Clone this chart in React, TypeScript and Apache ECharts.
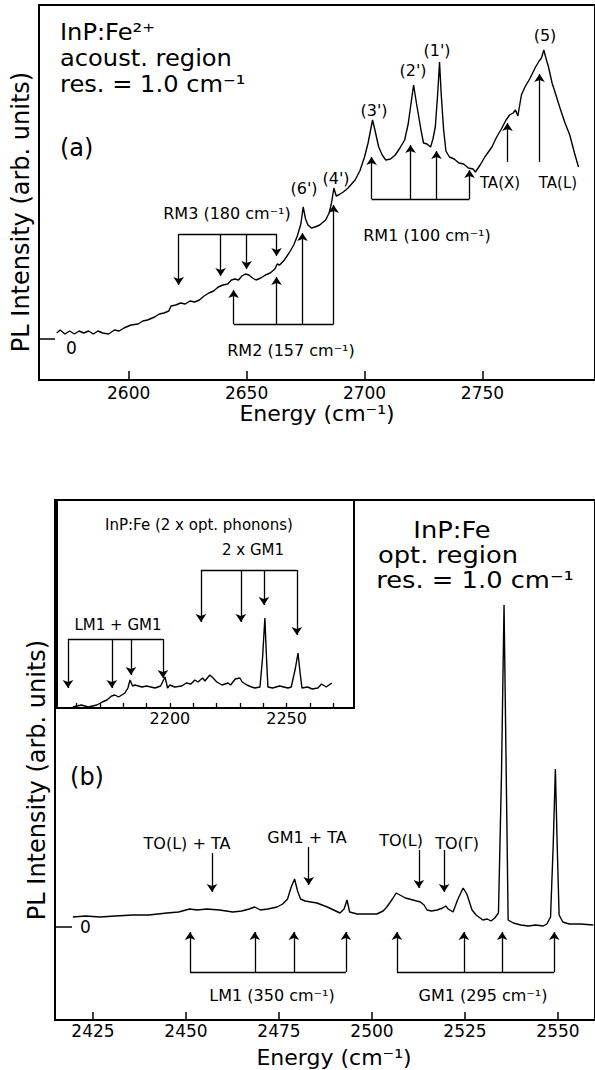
import React, { useEffect, useRef } from "react";
import * as echarts from "echarts";

const FONT = "DejaVu Sans";

// ---------- Panel (a): acoustic region ----------
const aTicks = [2600, 2650, 2700, 2750];
const aEnergy = [
  2569.5, 2571, 2573, 2575, 2577, 2579, 2581, 2583, 2585, 2587, 2589, 2591.5, 2594, 2596, 2598, 2601,
  2604, 2606, 2608, 2611, 2613, 2615, 2617, 2618, 2620, 2622, 2624, 2626, 2628, 2630, 2632, 2634,
  2636, 2638, 2640, 2642, 2643.6, 2645, 2646.6, 2648, 2649.5, 2651, 2652.5, 2654, 2656, 2658, 2660,
  2662, 2663, 2664, 2666, 2668, 2670, 2671.5, 2673, 2674, 2675, 2676, 2677.5, 2679, 2681, 2683.5,
  2685, 2686, 2687, 2688, 2689, 2691, 2693, 2696, 2698, 2700, 2701.5, 2703.4, 2704.5, 2706, 2707.5,
  2709, 2711, 2713, 2715, 2717, 2718.5, 2719.5, 2720.8, 2722, 2723, 2724, 2725, 2726.5, 2728, 2729,
  2730, 2731, 2731.8, 2732.5, 2733.5, 2734.5, 2736, 2738, 2740, 2742, 2744, 2746, 2747, 2749, 2751,
  2754, 2756, 2758, 2760, 2761.5, 2763, 2764, 2765, 2766.5, 2768, 2770, 2772.5, 2774, 2775, 2776,
  2777, 2778, 2779.5, 2781, 2783, 2785, 2787, 2789, 2790.7,
];
const aIntensity = [
  0.6, 0.9, 0.5, 0.8, 0.5, 0.8, 0.6, 0.8, 0.5, 0.8, 0.6, 0.5, 0.9, 0.8, 1.1, 1.4,
  1.5, 1.8, 1.9, 2.2, 2.5, 2.6, 2.8, 3.3, 3.4, 3.6, 3.5, 3.8, 3.7, 3.9, 4.3, 4.6,
  4.8, 5.2, 5.4, 5.5, 5.9, 6.0, 5.9, 6.3, 6.5, 6.4, 6.1, 5.9, 6.1, 6.4, 6.6,
  7.0, 7.5, 7.4, 7.9, 8.6, 9.4, 10.3, 11.5, 13.2, 12.0, 11.4, 11.1, 11.2, 11.4, 11.9,
  12.6, 13.6, 15.1, 14.3, 14.4, 14.7, 15.1, 15.9, 16.8, 18.2, 19.6, 21.9, 20.8, 19.2, 18.4,
  17.9, 18.0, 18.4, 19.1, 19.9, 21.5, 23.2, 25.4, 23.6, 22.2, 20.8, 19.6, 19.5, 19.2, 20.0,
  21.2, 24.5, 27.7, 24.5, 21.0, 18.8, 18.2, 18.0, 17.6, 17.5, 17.1, 17.0, 16.7, 17.4, 18.2,
  19.2, 20.2, 21.0, 21.9, 22.4, 22.6, 22.9, 22.3, 24.4, 25.2, 26.0, 27.2, 27.8, 28.1, 28.9,
  28.0, 27.2, 25.6, 24.5, 23.0, 21.6, 20.4, 18.6, 17.2,
];
const rm1Energy = [2703, 2719.5, 2730.5, 2744.5];
const rm1Tip = [18.2, 19.4, 18.8, 16.9];
const rm1Base = 14.0;
const rm2Energy = [2644.5, 2662.7, 2673.7, 2686.9];
const rm2Tip = [4.9, 6.2, 10.6, 13.4];
const rm2Base = 1.5;
const rm3Energy = [2621.2, 2639, 2650, 2662.7];
const rm3Tip = [5.4, 6.3, 7.0, 8.3];
const rm3Base = 10.5;
const taEnergy = [2760.6, 2774.2];
const taTip = [21.6, 26.5];
const taBase = 17.7;

// ---------- Panel (b): optical region ----------
const bTicks = [2425, 2450, 2475, 2500, 2525, 2550];
const bEnergy = [
  2419.6, 2423, 2426.9, 2431, 2435.8, 2440, 2444.9, 2448, 2451, 2453, 2455.6, 2459, 2462.6, 2465,
  2467, 2468.5, 2470, 2472, 2474.5, 2476, 2477.3, 2478.3, 2479.2, 2480, 2480.8, 2482, 2485.2, 2488,
  2491.4, 2492.5, 2493.3, 2494, 2496, 2501.3, 2503, 2504, 2505.5, 2506.5, 2507.5, 2509, 2511, 2513,
  2514, 2514.8, 2516, 2517.5, 2519, 2519.8, 2520.5, 2521.8, 2523, 2524.5, 2525.5, 2526.9, 2528,
  2529.8, 2531, 2532, 2533, 2534, 2534.8, 2535.5, 2536.1, 2536.6, 2538, 2540, 2542, 2544, 2546,
  2547, 2548, 2548.7, 2549.3, 2549.8, 2550.3, 2551.3, 2553, 2556, 2559.5,
];
const bIntensity = [
  1.0, 1.1, 1.0, 1.1, 1.2, 1.2, 1.4, 1.5, 1.8, 1.7, 1.8, 1.7, 1.5, 1.6,
  1.8, 2.0, 1.7, 1.8, 2.0, 2.3, 2.8, 4.0, 4.8, 3.6, 2.8, 2.6, 2.4, 2.0,
  1.4, 1.8, 2.7, 1.5, 1.3, 1.3, 1.6, 2.0, 2.8, 3.4, 3.2, 2.9, 2.7, 2.5,
  2.2, 1.7, 1.6, 1.7, 1.9, 2.1, 1.8, 1.5, 2.7, 3.9, 3.3, 1.7, 1.2,
  0.7, 0.8, 0.6, 0.9, 1.4, 15, 32.2, 15, 0.7, 0.4, 0.2, 0.1, 0.2, 0.1,
  0.3, 1.0, 8, 15.8, 8, 1.2, 0.5, 0.3, 0.3, 0.2,
];
const lm1Energy = [2451.1, 2468.5, 2479, 2493];
const gm1Energy = [2506.7, 2524.7, 2535, 2549];
const combBase = -4.5;
const combTip = -0.5;
const downEnergy = [2457, 2483, 2512.6, 2519.4];
const downStart = [7.4, 8.0, 7.7, 7.7];
const downTip = [3.5, 4.2, 3.9, 3.5];

// ---------- Inset: 2 x optical phonons ----------
const insetMinorTicks = [2160, 2170, 2180, 2190, 2200, 2210, 2220, 2230, 2240, 2250, 2260, 2270];
const insetMajorTicks = [2200, 2250];
const iEnergy = [
  2158.4, 2162, 2165, 2168.7, 2171, 2173, 2175, 2176.4, 2178, 2180.7, 2182, 2182.9, 2184, 2185,
  2188, 2190, 2193.6, 2196, 2197.9, 2199, 2200, 2202, 2205.1, 2207, 2209, 2210.7, 2212, 2214, 2215,
  2217.1, 2218.5, 2220.1, 2222.3, 2224.9, 2226, 2228, 2230, 2231, 2233, 2235, 2236.4, 2238.6,
  2239.7, 2240.7, 2241.4, 2242, 2244, 2247, 2250.6, 2252, 2253.8, 2254.9, 2255.8, 2256.6, 2259,
  2261, 2263.4, 2265, 2267, 2269.4,
];
const iIntensity = [
  0.1, 0.3, 0.1, 0.3, 0.6, 0.8, 1.2, 1.3, 1.1, 1.5, 2.0, 2.8, 2.2, 2.3,
  2.1, 2.2, 2.0, 2.2, 3.1, 2.0, 2.3, 2.1, 2.2, 2.5, 2.4, 2.8, 2.6, 3.0, 2.7,
  3.3, 3.0, 2.6, 2.3, 2.5, 2.3, 2.9, 3.0, 2.6, 2.3, 2.1, 2.0, 2.1,
  5, 9.0, 5, 2.1, 2.0, 2.2, 2.0, 2.1, 4, 5.5, 3.5, 2.0, 2.1,
  1.9, 2.0, 2.4, 2.1, 2.5,
];
const lmgmEnergy = [2156.3, 2175.1, 2183.3, 2197];
const lmgmTip = [2.0, 2.0, 3.3, 3.0];
const lmgmBase = 6.9;
const gm2Energy = [2213.3, 2230.4, 2240.3, 2254.4];
const gm2Tip = [8.6, 8.6, 10.3, 7.3];
const gm2Base = 13.8;

const pair = (xs: number[], ys: number[]) => xs.map((x, i) => [x, ys[i]]);
const arrows = (xs: number[], from: number | number[], to: number[]) =>
  xs.map((x, i) => ({ coords: [[x, Array.isArray(from) ? from[i] : from], [x, to[i]]] }));
const bracket = (xs: number[], y: number) => ({ coords: [[xs[0], y], [xs[xs.length - 1], y]] });

const txt = (
  text: string,
  x: number,
  y: number,
  size: number,
  align: string = "center",
  rotation = 0,
  scaleX = 1
) => ({
  type: "text",
  x,
  y,
  rotation,
  scaleX,
  silent: true,
  style: {
    text,
    x: 0,
    y: 0,
    fill: "#000",
    font: `${size}px "${FONT}"`,
    textAlign: align,
    align,
    textVerticalAlign: "middle",
    verticalAlign: "middle",
  },
});

function lineSeries(xi: number, data: number[][]) {
  return {
    type: "line",
    xAxisIndex: xi,
    yAxisIndex: xi,
    data,
    showSymbol: false,
    symbol: "none",
    lineStyle: { color: "#000", width: 1.4 },
    z: 3,
  };
}
function arrowSeries(xi: number, yi: number, data: any[]) {
  return {
    type: "lines",
    coordinateSystem: "cartesian2d",
    xAxisIndex: xi,
    yAxisIndex: yi,
    symbol: ["none", "arrow"],
    symbolSize: [0, 8],
    lineStyle: { color: "#000", width: 1.3, opacity: 1, curveness: 0 },
    itemStyle: { color: "#000" },
    data,
    z: 4,
  };
}
function bracketSeries(xi: number, yi: number, data: any[]) {
  return {
    type: "lines",
    coordinateSystem: "cartesian2d",
    xAxisIndex: xi,
    yAxisIndex: yi,
    symbol: ["none", "none"],
    lineStyle: { color: "#000", width: 1.3, opacity: 1, curveness: 0 },
    data,
    z: 4,
  };
}

const plain = (v: number) => String(v);
const tickLabel = { fontFamily: FONT, fontSize: 17, color: "#000", formatter: plain };
const axisLineStyle = { show: true, onZero: false, lineStyle: { color: "#000", width: 2 } };

export default function App() {
  const ref = useRef<HTMLDivElement>(null);
  useEffect(() => {
    if (!ref.current) return;
    const chart = echarts.init(ref.current, null, { renderer: "svg" });
    const option: any = {
      animation: false,
      backgroundColor: "#fff",
      grid: [
        { left: 39, top: 5, width: 558, height: 375, show: true, borderColor: "#000", borderWidth: 2 },
        { left: 55, top: 500, width: 540, height: 520, show: true, borderColor: "#000", borderWidth: 2 },
        { left: 57, top: 500, width: 297, height: 208, show: true, borderColor: "#000", borderWidth: 2 },
      ],
      xAxis: [
        {
          gridIndex: 0, type: "value", position: "bottom", min: 2562, max: 2797.7,
          axisLine: axisLineStyle,
          axisTick: { inside: true, length: 9, customValues: aTicks, lineStyle: { color: "#000", width: 1.5 } },
          axisLabel: { ...tickLabel, customValues: aTicks, margin: 4 },
          splitLine: { show: false },
        },
        {
          gridIndex: 1, type: "value", position: "bottom", min: 2414.8, max: 2559.95,
          axisLine: axisLineStyle,
          axisTick: { inside: true, length: 8, customValues: bTicks, lineStyle: { color: "#000", width: 1.5 } },
          axisLabel: { ...tickLabel, customValues: bTicks, margin: 2 },
          splitLine: { show: false },
        },
        {
          gridIndex: 2, type: "value", position: "bottom", min: 2151.6, max: 2278.9,
          axisLine: axisLineStyle,
          axisTick: { inside: true, length: 5, customValues: insetMinorTicks, lineStyle: { color: "#000", width: 1.3 } },
          axisLabel: { ...tickLabel, fontSize: 16, customValues: insetMajorTicks, margin: 2 },
          splitLine: { show: false },
        },
      ],
      yAxis: [
        {
          gridIndex: 0, type: "value", min: -4.1, max: 33.4,
          axisLine: { show: false, onZero: false },
          axisTick: { inside: true, length: 16, customValues: [0], lineStyle: { color: "#000", width: 1.5 } },
          axisLabel: { ...tickLabel, inside: true, customValues: [0], margin: 27, verticalAlign: "top" },
          splitLine: { show: false },
        },
        {
          gridIndex: 1, type: "value", min: -9.3, max: 42.7,
          axisLine: { show: false, onZero: false },
          axisTick: { inside: true, length: 17, customValues: [0], lineStyle: { color: "#000", width: 1.5 } },
          axisLabel: { ...tickLabel, inside: true, customValues: [0], margin: 25 },
          splitLine: { show: false },
        },
        {
          gridIndex: 2, type: "value", min: 0, max: 20.8,
          axisLine: { show: false, onZero: false }, axisTick: { show: false }, axisLabel: { show: false },
          splitLine: { show: false },
        },
      ],
      series: [
        lineSeries(0, pair(aEnergy, aIntensity)),
        lineSeries(1, pair(bEnergy, bIntensity)),
        lineSeries(2, pair(iEnergy, iIntensity)),
        arrowSeries(0, 0, [
          ...arrows(rm1Energy, rm1Base, rm1Tip),
          ...arrows(rm2Energy, rm2Base, rm2Tip),
          ...arrows(rm3Energy, rm3Base, rm3Tip),
          ...arrows(taEnergy, taBase, taTip),
        ]),
        bracketSeries(0, 0, [bracket(rm1Energy, rm1Base), bracket(rm2Energy, rm2Base), bracket(rm3Energy, rm3Base)]),
        arrowSeries(1, 1, [
          ...arrows(lm1Energy, combBase, lm1Energy.map(() => combTip)),
          ...arrows(gm1Energy, combBase, gm1Energy.map(() => combTip)),
          ...arrows(downEnergy, downStart, downTip),
        ]),
        bracketSeries(1, 1, [bracket(lm1Energy, combBase), bracket(gm1Energy, combBase)]),
        arrowSeries(2, 2, [...arrows(lmgmEnergy, lmgmBase, lmgmTip), ...arrows(gm2Energy, gm2Base, gm2Tip)]),
        bracketSeries(2, 2, [bracket(lmgmEnergy, lmgmBase), bracket(gm2Energy, gm2Base)]),
      ],
      graphic: [
        // panel (a)
        txt("InP:Fe²⁺", 60, 32, 23, "left", 0, 1.05),
        txt("acoust. region", 60, 58, 23, "left", 0, 1.05),
        txt("res. = 1.0 cm⁻¹", 60, 84, 23, "left", 0, 1.05),
        txt("(a)", 60, 148, 24, "left"),
        txt("(5)", 545, 35, 16),
        txt("(1')", 437, 50, 16),
        txt("(2')", 413, 70, 16),
        txt("(3')", 374, 110, 16),
        txt("(4')", 336, 178, 16),
        txt("(6')", 304, 188, 16),
        txt("TA(X)", 500, 183, 15),
        txt("TA(L)", 558, 183, 15),
        txt("RM1 (100 cm⁻¹)", 427, 235, 16),
        txt("RM3 (180 cm⁻¹)", 227, 213, 16),
        txt("RM2 (157 cm⁻¹)", 291, 350, 16),
        txt("Energy (cm⁻¹)", 317, 413, 22),
        txt("PL Intensity (arb. units)", 21, 212, 24, "center", Math.PI / 2),
        // panel (b)
        txt("InP:Fe", 452, 530, 23, "center", 0, 1.12),
        txt("opt. region", 448, 555, 23, "center", 0, 1.12),
        txt("res. = 1.0 cm⁻¹", 475, 580, 23, "center", 0, 1.12),
        txt("(b)", 87, 777, 24),
        txt("TO(L) + TA", 187, 843, 16),
        txt("GM1 + TA", 307, 837, 16),
        txt("TO(L)", 401, 840, 16),
        txt("TO(Γ)", 457, 843, 16),
        txt("LM1 (350 cm⁻¹)", 272, 995, 16),
        txt("GM1 (295 cm⁻¹)", 483, 995, 16),
        txt("Energy (cm⁻¹)", 334, 1057, 22),
        txt("PL Intensity (arb. units)", 37, 780, 24, "center", Math.PI / 2),
        // inset
        txt("InP:Fe (2 x opt. phonons)", 199, 525, 15),
        txt("2 x GM1", 253, 550, 15),
        txt("LM1 + GM1", 118, 625, 15),
      ],
    };
    chart.setOption(option);
    return () => chart.dispose();
  }, []);
  return (
    <div
      ref={ref}
      style={{ position: "absolute", left: 0, top: 0, width: 595, height: 1070, background: "#fff" }}
    />
  );
}
